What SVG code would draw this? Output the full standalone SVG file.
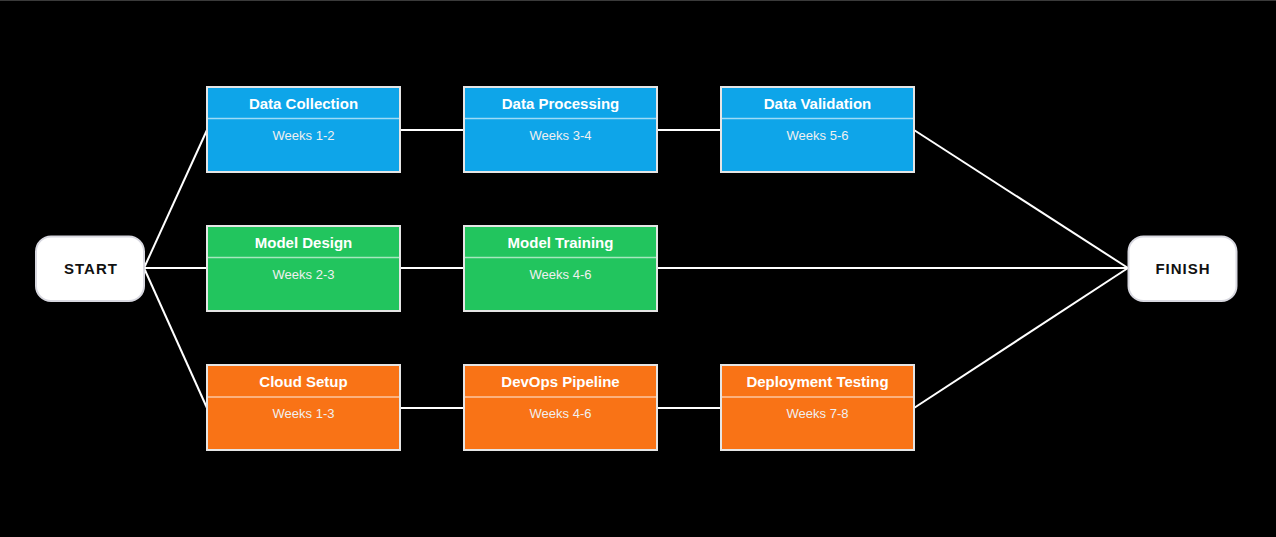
<svg xmlns="http://www.w3.org/2000/svg" width="1276" height="537" viewBox="0 0 1276 537">
<style>
.bg{fill:#000}
.task rect.box{stroke:#e5e5e5;stroke-width:2}
.sep{stroke:#ffffff;stroke-opacity:0.6;stroke-width:1.5}
.title{font-family:"Liberation Sans",Arial,sans-serif;font-size:15px;font-weight:bold;fill:#fff;text-anchor:middle}
.weeks{font-family:"Liberation Sans",Arial,sans-serif;font-size:13px;fill:#f0f0f0;text-anchor:middle}
.term rect{fill:#fff;stroke:#d8d8e0;stroke-width:2}
.term text{font-family:"Liberation Sans",Arial,sans-serif;font-size:15px;font-weight:bold;fill:#111;text-anchor:middle;letter-spacing:1px}
.conn line{stroke:#fff;stroke-width:2}
.blue{fill:#0ea5e9}.green{fill:#22c55e}.orange{fill:#f97316}
</style>
<rect class="bg" x="0" y="0" width="1276" height="537"/>
<rect x="0" y="0" width="1276" height="1" fill="#3a3a3a"/>
<g id="connectors" class="conn">
<line x1="144" y1="268" x2="207" y2="130"/>
<line x1="144" y1="268" x2="207" y2="268"/>
<line x1="144" y1="268" x2="207" y2="408"/>
<line x1="400" y1="130" x2="464" y2="130"/>
<line x1="657" y1="130" x2="721" y2="130"/>
<line x1="400" y1="268" x2="464" y2="268"/>
<line x1="400" y1="408" x2="464" y2="408"/>
<line x1="657" y1="408" x2="721" y2="408"/>
<line x1="914" y1="130" x2="1128" y2="268"/>
<line x1="657" y1="268" x2="1128" y2="268"/>
<line x1="914" y1="408" x2="1128" y2="268"/>
</g>
<g id="start" class="term"><rect x="36" y="236.5" width="108" height="64.5" rx="15"/><text x="91" y="273.5">START</text></g>
<g id="finish" class="term"><rect x="1128.5" y="236.5" width="108" height="64.5" rx="15"/><text x="1183" y="273.5">FINISH</text></g>
<g id="data-collection" class="task"><rect class="box blue" x="207" y="87" width="193" height="85"/><line class="sep" x1="208" y1="118.5" x2="399" y2="118.5"/><text class="title" x="303.5" y="108.5">Data Collection</text><text class="weeks" x="303.5" y="140">Weeks 1-2</text></g>
<g id="data-processing" class="task"><rect class="box blue" x="464" y="87" width="193" height="85"/><line class="sep" x1="465" y1="118.5" x2="656" y2="118.5"/><text class="title" x="560.5" y="108.5">Data Processing</text><text class="weeks" x="560.5" y="140">Weeks 3-4</text></g>
<g id="data-validation" class="task"><rect class="box blue" x="721" y="87" width="193" height="85"/><line class="sep" x1="722" y1="118.5" x2="913" y2="118.5"/><text class="title" x="817.5" y="108.5">Data Validation</text><text class="weeks" x="817.5" y="140">Weeks 5-6</text></g>
<g id="model-design" class="task"><rect class="box green" x="207" y="226" width="193" height="85"/><line class="sep" x1="208" y1="257.5" x2="399" y2="257.5"/><text class="title" x="303.5" y="247.5">Model Design</text><text class="weeks" x="303.5" y="279">Weeks 2-3</text></g>
<g id="model-training" class="task"><rect class="box green" x="464" y="226" width="193" height="85"/><line class="sep" x1="465" y1="257.5" x2="656" y2="257.5"/><text class="title" x="560.5" y="247.5">Model Training</text><text class="weeks" x="560.5" y="279">Weeks 4-6</text></g>
<g id="cloud-setup" class="task"><rect class="box orange" x="207" y="365" width="193" height="85"/><line class="sep" x1="208" y1="397" x2="399" y2="397"/><text class="title" x="303.5" y="386.5">Cloud Setup</text><text class="weeks" x="303.5" y="418">Weeks 1-3</text></g>
<g id="devops-pipeline" class="task"><rect class="box orange" x="464" y="365" width="193" height="85"/><line class="sep" x1="465" y1="397" x2="656" y2="397"/><text class="title" x="560.5" y="386.5">DevOps Pipeline</text><text class="weeks" x="560.5" y="418">Weeks 4-6</text></g>
<g id="deployment-testing" class="task"><rect class="box orange" x="721" y="365" width="193" height="85"/><line class="sep" x1="722" y1="397" x2="913" y2="397"/><text class="title" x="817.5" y="386.5">Deployment Testing</text><text class="weeks" x="817.5" y="418">Weeks 7-8</text></g>
</svg>
